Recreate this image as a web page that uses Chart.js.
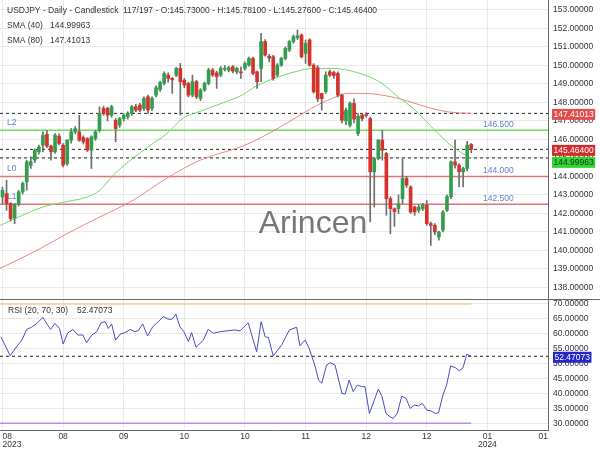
<!DOCTYPE html>
<html>
<head>
<meta charset="utf-8">
<script src="https://cdn.jsdelivr.net/npm/chart.js@4.4.1/dist/chart.umd.min.js"></script>
<style>
  html, body { margin: 0; padding: 0; background: #fff; }
  #wrap { position: relative; width: 600px; height: 450px; }
  canvas { position: absolute; left: 0; }
  #price { top: 0; }
  #rsi { top: 300px; }
</style>
</head>
<body>
<div id="wrap">
  <canvas id="price" width="600" height="300"></canvas>
  <canvas id="rsi" width="600" height="150"></canvas>
</div>
<script>
const symbol = "USDJPY";
const totalBars = 197;

// daily candles, one per trading day
const opens = [
  142.89, 143.07, 142.53, 141.75, 142.53, 143.16, 143.70, 144.60, 144.88, 145.33,
  145.69, 146.28, 145.64, 145.33, 146.18, 145.69, 144.70, 145.96, 146.41, 146.41,
  146.10, 146.05, 145.42, 146.05, 146.50, 147.68, 147.68, 147.31, 147.04, 146.77,
  147.13, 147.22, 147.41, 147.77, 147.86, 147.68, 148.31, 147.68, 148.40, 148.70,
  149.03, 149.48, 149.30, 149.48, 149.84, 149.20, 149.03, 148.40, 149.12, 148.22,
  148.67, 149.03, 149.75, 149.60, 149.48, 149.80, 149.75, 149.93, 149.66, 149.66,
  149.84, 150.02, 150.38, 149.66, 149.84, 151.29, 150.50, 150.47, 149.48, 150.02,
  150.38, 150.83, 151.29, 151.50, 151.65, 150.65, 151.38, 150.02, 149.88, 148.49,
  148.58, 149.66, 149.62, 149.57, 148.40, 147.00, 146.77, 147.95, 146.32, 147.32,
  147.35, 147.13, 144.25, 144.97, 145.96, 145.24, 142.80, 142.25, 142.26, 142.80,
  143.89, 143.43, 142.35, 142.17, 142.26, 142.44, 141.45, 141.36, 140.73, 141.10,
  142.17, 142.90, 144.79, 144.61, 144.25, 144.43, 145.73
];
const highs = [
  143.43, 143.80, 142.60, 142.55, 143.25, 143.70, 144.88, 145.06, 145.50, 145.70,
  146.41, 146.50, 145.70, 146.32, 146.30, 145.78, 146.00, 146.59, 146.70, 147.31,
  146.20, 146.10, 146.20, 146.50, 147.77, 147.80, 147.75, 147.85, 147.13, 147.20,
  147.40, 147.50, 147.85, 147.90, 147.95, 148.30, 148.40, 148.30, 148.90, 149.15,
  149.65, 149.60, 149.35, 149.90, 150.11, 149.30, 149.10, 149.48, 149.20, 148.75,
  149.10, 149.85, 149.85, 149.70, 149.95, 150.00, 149.95, 150.00, 149.90, 149.93,
  150.20, 150.45, 150.45, 149.70, 151.74, 151.40, 150.60, 150.55, 150.10, 150.45,
  151.00, 151.35, 151.65, 151.92, 151.70, 151.38, 151.45, 150.10, 150.00, 148.50,
  149.66, 149.75, 149.70, 149.65, 148.45, 147.70, 148.04, 148.20, 147.40, 147.40,
  147.45, 147.20, 145.00, 146.00, 146.50, 145.30, 142.90, 142.30, 143.00, 144.97,
  144.00, 143.50, 142.40, 142.45, 142.55, 142.70, 141.54, 141.45, 141.05, 142.15,
  143.00, 144.85, 145.96, 144.70, 144.50, 145.90, 145.781
];
const lows = [
  142.53, 142.17, 141.60, 141.45, 142.40, 143.05, 143.25, 144.43, 144.75, 145.20,
  145.33, 145.55, 144.88, 145.24, 145.70, 144.52, 144.60, 145.80, 146.30, 145.90,
  145.75, 145.35, 144.43, 145.95, 146.40, 147.30, 147.00, 147.20, 145.87, 146.65,
  147.00, 147.10, 147.30, 147.50, 147.50, 147.55, 147.41, 147.55, 148.30, 148.60,
  148.95, 149.10, 148.49, 149.40, 147.32, 148.80, 148.30, 148.30, 148.20, 148.10,
  148.60, 148.95, 149.40, 148.76, 149.40, 149.70, 149.65, 149.60, 149.55, 149.30,
  149.75, 149.95, 149.50, 148.76, 149.12, 150.50, 150.20, 149.20, 149.40, 149.95,
  150.30, 150.75, 151.20, 151.40, 150.40, 150.11, 149.95, 148.50, 148.05, 147.58,
  148.49, 149.40, 149.30, 148.30, 146.90, 146.80, 146.68, 146.90, 146.20, 147.00,
  147.20, 141.54, 142.35, 144.90, 144.88, 141.90, 140.90, 141.30, 142.00, 142.53,
  143.40, 142.00, 141.90, 142.05, 142.15, 141.36, 140.27, 140.85, 140.55, 141.00,
  142.10, 142.80, 144.45, 143.43, 143.43, 144.30, 145.276
];
const closes = [
  143.25, 142.53, 141.72, 142.45, 143.16, 143.62, 144.79, 144.80, 145.42, 145.60,
  146.23, 145.64, 145.33, 146.23, 145.78, 144.61, 145.96, 146.41, 146.59, 145.96,
  145.87, 145.42, 146.14, 146.41, 147.41, 147.41, 147.31, 147.77, 146.59, 147.13,
  147.31, 147.41, 147.77, 147.59, 147.59, 148.22, 147.59, 148.22, 148.80, 149.08,
  149.57, 149.30, 149.22, 149.84, 149.12, 148.94, 148.40, 149.12, 148.31, 148.67,
  149.03, 149.75, 149.48, 149.40, 149.84, 149.86, 149.88, 149.70, 149.84, 149.60,
  150.11, 150.38, 149.57, 149.12, 151.29, 150.56, 150.40, 149.30, 150.02, 150.38,
  150.92, 151.29, 151.56, 151.60, 150.47, 151.20, 150.02, 148.58, 148.20, 148.21,
  149.48, 149.48, 149.45, 148.40, 147.04, 147.58, 147.95, 147.10, 147.25, 147.13,
  147.30, 144.25, 144.97, 145.96, 145.42, 142.80, 142.26, 142.10, 142.53, 143.89,
  143.53, 142.08, 142.08, 142.35, 142.44, 141.45, 141.35, 141.00, 141.00, 142.08,
  142.90, 144.79, 144.61, 144.25, 144.43, 145.69, 145.464
];

// moving averages, read at bar positions
const sma40Pos  = [-0.6, 10.0, 14.2, 20.9, 24.1, 27.4, 32.3, 37.3, 40.2, 44.7, 48.4, 54.3, 59.3, 62.5, 67.5, 72.4, 76.9, 81.5, 89.7, 93.9, 97.9, 102.1, 106.2, 110.3, 113.7, 116];
const sma40Vals = [141.35, 142.35, 142.57, 142.89, 143.25, 144.07, 144.99, 145.80, 146.23, 147.15, 147.48, 147.96, 148.40, 148.85, 149.32, 149.66, 149.84, 149.84, 149.48, 149.03, 148.30, 147.59, 146.68, 145.80, 145.26, 144.99963];
const sma80Pos  = [-0.6, 8.5, 15.9, 24.1, 32.3, 40.6, 48.9, 60.0, 66.6, 72.4, 76.5, 81.5, 85.5, 89.7, 93.9, 97.9, 102.1, 106.2, 110.3, 116];
const sma80Vals = [139.03, 140.00, 140.90, 141.81, 142.71, 143.90, 144.88, 145.69, 146.41, 147.15, 147.69, 148.22, 148.49, 148.49, 148.40, 148.22, 147.95, 147.68, 147.49, 147.41013];

// RSI (20, 70, 30)
const rsiPos = [
  -0.4, 1.9, 3.5, 4.8, 6.0, 7.2, 8.5, 10.0, 10.9, 11.9, 13.0, 14.1, 15.0, 16.1, 17.4, 18.6, 19.9, 20.8,
  22.1, 23.3, 24.4, 25.4, 26.2, 27.0, 28.0, 29.1, 30.3, 31.6, 32.8, 33.6, 34.7, 35.9, 37.2, 38.6, 39.8,
  41.0, 42.0, 42.9, 43.9, 44.9, 46.0, 46.8, 47.9, 49.7, 50.9, 52.2, 53.8, 56.3, 57.5, 58.8, 60.8, 62.9,
  64.0, 65.0, 65.8, 67.0, 69.1, 71.0, 72.8, 73.6, 74.9, 75.9, 77.4, 78.2, 79.0, 80.2, 81.1, 82.3, 84.0,
  84.8, 85.8, 86.8, 87.8, 88.9, 89.7, 90.8, 93.0, 93.9, 94.9, 95.9, 96.7, 97.7, 98.8, 99.9, 100.9, 101.9,
  102.9, 103.9, 105.0, 106.0, 107.1, 107.9, 109.0, 109.9, 110.9, 112.0, 113.1, 114.0, 114.9, 116
];
const rsiVals = [
  59.0, 52.7, 55.7, 57.9, 61.5, 62.2, 63.5, 65.5, 63.5, 61.5, 63.5, 61.8, 56.6, 60.2, 61.5, 59.6, 59.6, 57.0,
  59.6, 60.7, 63.7, 64.1, 61.8, 63.3, 57.9, 59.9, 60.4, 61.5, 60.7, 61.1, 63.3, 59.3, 62.4, 64.1, 65.8,
  64.9, 64.9, 66.6, 62.4, 60.7, 57.4, 60.4, 55.5, 57.9, 61.5, 60.2, 60.7, 61.1, 61.3, 61.0, 63.7, 54.0,
  64.1, 59.0, 58.8, 52.6, 56.3, 61.3, 62.2, 56.0, 57.9, 55.1, 49.0, 44.5, 43.4, 49.5, 50.3, 49.5, 40.0,
  39.8, 44.5, 40.6, 42.8, 42.3, 42.3, 33.3, 41.4, 39.1, 33.3, 32.2, 31.6, 33.3, 39.1, 38.3, 35.0, 36.1,
  35.8, 36.7, 34.4, 34.2, 33.3, 33.5, 39.5, 42.8, 49.2, 48.7, 47.6, 48.7, 53.2, 52.47073
];
const rsiBands = [70, 30];

// support / resistance levels
const levelNames  = ["L2", "L0", "L1"];
const levelValues = [146.5, 144.0, 142.5];

// axes
const xTickPos    = [0, 15, 30, 45, 60, 75, 90, 105, 120, 135];
const xTickMonths = ["08", "08", "09", "10", "10", "11", "12", "12", "01", "01"];
const xTickYears  = ["2023", "", "", "", "", "", "", "", "2024", ""];
const priceTicks  = [138, 139, 140, 141, 142, 143, 144, 145, 146, 147, 148, 149, 150, 151, 152, 153];
const rsiTicks    = [30, 35, 40, 45, 50, 55, 60, 65, 70];

const N = closes.length;
const lastClose = closes[N - 1];
const lastSma40 = sma40Vals[sma40Vals.length - 1];
const lastSma80 = sma80Vals[sma80Vals.length - 1];
const lastRsi = rsiVals[rsiVals.length - 1];

const FONT = "'Liberation Sans', Arial, sans-serif";
const GRID = "#e9e9e9";
const AXIS = "#666";
const TEXT = "#333";
const UP = "#2f9f4c";
const DOWN = "#d5322c";
const X_MIN = -0.62, X_MAX = 135;

const flat = (v, x1, x2) => [{ x: x1, y: v }, { x: x2, y: v }];
const lineDs = (data, color, extra) => Object.assign({
  type: "line", data, borderColor: color, borderWidth: 1, pointRadius: 0, fill: false
}, extra);

// no auto padding around the plot: panels must line up exactly
const noPad = (s) => { s.paddingTop = 0; s.paddingBottom = 0; s.paddingLeft = 0; s.paddingRight = 0; };

const xAxis = (showLabels) => ({
  type: "linear",
  min: X_MIN,
  max: X_MAX,
  offset: false,
  afterBuildTicks: (s) => { s.ticks = xTickPos.map((v) => ({ value: v })); },
  afterFit: (s) => { s.height = showLabels ? 20 : 0; noPad(s); },
  grid: { color: GRID, drawTicks: false, offset: false },
  border: { display: showLabels, color: AXIS },
  ticks: {
    display: showLabels,
    autoSkip: false,
    maxRotation: 0,
    align: "inner",
    padding: 3,
    color: TEXT,
    font: { family: FONT, size: 8.5, lineHeight: 0.9 },
    callback: (v, i) => xTickYears[i] ? [xTickMonths[i], xTickYears[i]] : xTickMonths[i],
  },
});

const yAxis = (min, max, ticks) => ({
  position: "right",
  min, max,
  afterBuildTicks: (s) => { s.ticks = ticks.map((v) => ({ value: v })); },
  afterFit: (s) => { s.width = 52; noPad(s); },
  grid: { color: GRID, drawTicks: false },
  border: { color: AXIS },
  ticks: {
    padding: 5,
    color: TEXT,
    font: { family: FONT, size: 8.5 },
    callback: (v) => Number(v).toFixed(5),
  },
});

function valueBox(ctx, x, cy, label, bg, fg) {
  const w = ctx.measureText(label).width + 3;
  ctx.fillStyle = bg;
  ctx.fillRect(x, cy - 5.5, w, 11);
  ctx.fillStyle = fg;
  ctx.fillText(label, x + 1.5, cy + 0.5);
}

const priceDecor = {
  id: "priceDecor",
  beforeDatasetsDraw(chart) {
    const { ctx, scales: { y } } = chart;
    ctx.save();
    ctx.font = "32px " + FONT;
    ctx.fillStyle = "rgba(100,100,100,0.88)";
    ctx.textAlign = "center";
    ctx.textBaseline = "middle";
    ctx.fillText("Arincen", 313, 224);

    ctx.font = "8.5px " + FONT;
    ctx.fillStyle = "#5d7fcc";
    ctx.textAlign = "left";
    levelValues.forEach((v, i) => {
      const py = y.getPixelForValue(v);
      ctx.fillText(levelNames[i], 7, py - 8);
      ctx.fillText(v.toFixed(3), 483, py - 5.5);
    });
    ctx.restore();
  },
  afterDraw(chart) {
    const { ctx, chartArea: a, scales: { y } } = chart;
    ctx.save();
    ctx.font = "8.5px " + FONT;
    ctx.textBaseline = "middle";
    ctx.textAlign = "left";
    ctx.fillStyle = TEXT;
    ctx.fillText(symbol + " - Daily - Candlestick", 7, 11);
    ctx.fillText(N + "/" + totalBars + " - O:" + opens[N - 1].toFixed(5) + " - H:" + highs[N - 1].toFixed(5) +
      " - L:" + lows[N - 1].toFixed(5) + " - C:" + lastClose.toFixed(5), 123, 11);
    ctx.fillText("SMA (40)", 7, 26);
    ctx.fillText(lastSma40.toFixed(5), 50, 26);
    ctx.fillText("SMA (80)", 7, 41);
    ctx.fillText(lastSma80.toFixed(5), 50, 41);

    // panel separator
    ctx.strokeStyle = AXIS;
    ctx.lineWidth = 1;
    ctx.beginPath();
    ctx.moveTo(0, a.bottom - 0.5);
    ctx.lineTo(chart.width, a.bottom - 0.5);
    ctx.stroke();

    // last value boxes on the price axis
    const marks = [
      { v: lastSma80, bg: "#e34d4d", fg: "#fff" },
      { v: lastClose, bg: "#d42c2c", fg: "#fff" },
      { v: lastSma40, bg: "#35d435", fg: "#0d3b0d" },
    ].map((m) => Object.assign(m, { py: y.getPixelForValue(m.v) }))
     .sort((p, q) => p.py - q.py);
    let prev = -1e9;
    marks.forEach((m) => {
      const cy = Math.max(m.py + 1, prev + 12);
      prev = cy;
      valueBox(ctx, a.right + 4, cy, m.v.toFixed(5), m.bg, m.fg);
    });
    ctx.restore();
  },
};

const rsiDecor = {
  id: "rsiDecor",
  afterDraw(chart) {
    const { ctx, chartArea: a, scales: { y } } = chart;
    ctx.save();
    ctx.font = "8.5px " + FONT;
    ctx.textBaseline = "middle";
    ctx.textAlign = "left";
    ctx.fillStyle = TEXT;
    ctx.fillText("RSI (20, 70, 30)", 8, 11);
    ctx.fillText(lastRsi.toFixed(5), 77, 11);
    valueBox(ctx, a.right + 5, y.getPixelForValue(lastRsi) + 1, lastRsi.toFixed(5), "#2525c8", "#fff");
    ctx.restore();
  },
};

const baseOptions = {
  responsive: false,
  animation: false,
  events: [],
  layout: { padding: 0, autoPadding: false },
  plugins: { legend: { display: false }, tooltip: { enabled: false } },
  elements: { point: { radius: 0 } },
};

new Chart(document.getElementById("price"), {
  type: "line",
  data: {
    datasets: [
      {
        type: "bar",
        data: opens.map((o, i) => ({ x: i, y: [o, closes[i]] })),
        backgroundColor: opens.map((o, i) => closes[i] >= o ? UP : DOWN),
        barThickness: 3,
        grouped: false,
        order: 1,
      },
      {
        type: "bar",
        data: lows.map((l, i) => ({ x: i, y: [l, highs[i]] })),
        backgroundColor: "#6d6d6d",
        barThickness: 1,
        grouped: false,
        order: 2,
      },
      lineDs(sma40Pos.map((x, i) => ({ x, y: sma40Vals[i] })), "#72d867", { cubicInterpolationMode: "monotone", order: 3 }),
      lineDs(sma80Pos.map((x, i) => ({ x, y: sma80Vals[i] })), "#e48888", { cubicInterpolationMode: "monotone", order: 3 }),
      ...levelValues.map((v, i) => lineDs(flat(v, X_MIN, X_MAX), i === 0 ? "#6fdc5e" : "#de7474", { borderWidth: 1.4, order: 5 })),
      ...[lastSma80, lastClose, lastSma40].map((v) => lineDs(flat(v, X_MIN, X_MAX), "#222", { borderDash: [3, 3], order: 4 })),
    ],
  },
  options: Object.assign({}, baseOptions, {
    scales: { x: xAxis(false), y: yAxis(137.32, 153.54, priceTicks) },
  }),
  plugins: [priceDecor],
});

new Chart(document.getElementById("rsi"), {
  type: "line",
  data: {
    datasets: [
      lineDs(rsiPos.map((x, i) => ({ x, y: rsiVals[i] })), "#4b4bbf", { order: 1 }),
      lineDs(flat(rsiBands[0], X_MIN, N - 1), "#f5cf86", { borderWidth: 1.5, order: 3 }),
      lineDs(flat(rsiBands[1], X_MIN, N - 1), "#b68ee6", { borderWidth: 1.5, order: 3 }),
      lineDs(flat(lastRsi, X_MIN, X_MAX), "#222", { borderDash: [3, 3], order: 2 }),
    ],
  },
  options: Object.assign({}, baseOptions, {
    scales: { x: xAxis(true), y: yAxis(27.75, 71.34, rsiTicks) },
  }),
  plugins: [rsiDecor],
});
</script>
</body>
</html>
